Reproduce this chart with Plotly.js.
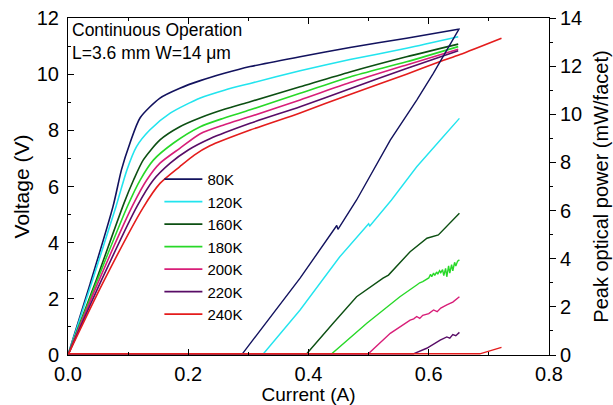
<!DOCTYPE html>
<html>
<head>
<meta charset="utf-8">
<script src="https://cdn.plot.ly/plotly-3.0.1.min.js"></script>
<style>html,body{margin:0;padding:0;background:#fff;}#chart{width:613px;height:405px;}</style>
</head>
<body>
<div id="chart"></div>
<script>
// Temperatures / legend labels
const temps = ["80K", "120K", "160K", "180K", "200K", "220K", "240K"];
const colors = ["#12125e", "#22e4ee", "#0c4f12", "#28d828", "#d81e78", "#580c66", "#e41c1c"];

// Voltage (left axis) vs current
const iV80  = [0, 0.037, 0.075, 0.089, 0.103, 0.12, 0.153, 0.186, 0.22, 0.26, 0.303, 0.386, 0.469, 0.563, 0.649];
const v80   = [0, 2.55, 5.3, 6.6, 7.54, 8.45, 9.15, 9.5, 9.77, 10.03, 10.27, 10.62, 10.95, 11.28, 11.6];
const iV120 = [0, 0.039, 0.08, 0.098, 0.114, 0.136, 0.17, 0.22, 0.26, 0.303, 0.386, 0.469, 0.563, 0.649];
const v120  = [0, 2.55, 5.3, 6.59, 7.42, 8.01, 8.61, 9.15, 9.43, 9.67, 10.12, 10.52, 10.92, 11.33];
const iV160 = [0, 0.045, 0.093, 0.109, 0.125, 0.153, 0.186, 0.22, 0.26, 0.303, 0.386, 0.469, 0.563, 0.649];
const v160  = [0, 2.55, 5.4, 6.23, 6.94, 7.66, 8.13, 8.45, 8.75, 9.02, 9.55, 10.08, 10.62, 11.07];
const iV180 = [0, 0.0466, 0.1, 0.12, 0.142, 0.175, 0.22, 0.26, 0.303, 0.386, 0.469, 0.563, 0.649];
const v180  = [0, 2.55, 5.35, 6.23, 6.94, 7.54, 8.13, 8.44, 8.73, 9.32, 9.9, 10.44, 10.98];
const iV200 = [0, 0.0494, 0.107, 0.131, 0.153, 0.186, 0.22, 0.26, 0.303, 0.386, 0.469, 0.563, 0.649];
const v200  = [0, 2.55, 5.3, 6.23, 6.83, 7.36, 7.88, 8.2, 8.49, 9.08, 9.7, 10.33, 10.89];
const iV220 = [0, 0.0532, 0.115, 0.142, 0.17, 0.2, 0.236, 0.303, 0.386, 0.469, 0.563, 0.649];
const v220  = [0, 2.55, 5.3, 6.23, 6.83, 7.3, 7.7, 8.25, 8.84, 9.48, 10.2, 10.83];
const iV240 = [0, 0.0576, 0.125, 0.153, 0.186, 0.21, 0.236, 0.303, 0.386, 0.469, 0.563, 0.619, 0.652, 0.721];
const v240  = [0, 2.55, 5.25, 6.11, 6.71, 7.12, 7.45, 8.01, 8.62, 9.28, 10.0, 10.45, 10.7, 11.28];

// Peak optical power (right axis) vs current
const iP80  = [0, 0.1, 0.2, 0.29, 0.386, 0.447, 0.449, 0.48, 0.536, 0.58, 0.6076, 0.63, 0.651];
const p80   = [0.05, 0.05, 0.05, 0.05, 3.19, 5.38, 5.22, 6.44, 8.93, 10.59, 11.7, 12.67, 13.57];
const iP120 = [0, 0.1, 0.2, 0.325, 0.386, 0.452, 0.5, 0.502, 0.538, 0.58, 0.624, 0.651];
const p120  = [0.05, 0.05, 0.05, 0.05, 1.87, 4.08, 5.45, 5.36, 6.44, 7.82, 9.07, 9.83];
const iP160 = [0, 0.1, 0.2, 0.3, 0.397, 0.441, 0.48, 0.524, 0.533, 0.569, 0.597, 0.616, 0.621, 0.635, 0.651];
const p160  = [0.05, 0.05, 0.05, 0.05, 0.05, 1.32, 2.42, 3.19, 3.32, 4.29, 4.85, 4.99, 5.12, 5.47, 5.89];
const iP180 = [0, 0.1, 0.2, 0.3, 0.4386, 0.497, 0.552, 0.58, 0.585, 0.59, 0.595, 0.6, 0.603, 0.605, 0.608, 0.61, 0.613, 0.615, 0.618, 0.62, 0.623, 0.625, 0.628, 0.63, 0.633, 0.635, 0.638, 0.64, 0.643, 0.645, 0.648, 0.651];
const p180  = [0.05, 0.05, 0.05, 0.05, 0.05, 1.32, 2.42, 2.91, 3.0, 3.05, 3.12, 3.2, 3.35, 3.25, 3.4, 3.3, 3.45, 3.36, 3.5, 3.42, 3.55, 3.3, 3.6, 3.25, 3.7, 3.4, 3.75, 3.5, 3.85, 3.7, 3.9, 3.95];
const iP200 = [0, 0.1, 0.2, 0.3, 0.4, 0.4995, 0.536, 0.569, 0.575, 0.58, 0.585, 0.59, 0.6, 0.608, 0.614, 0.62, 0.63, 0.64, 0.651];
const p200  = [0.05, 0.05, 0.05, 0.05, 0.05, 0.05, 0.9, 1.45, 1.5, 1.6, 1.52, 1.65, 1.72, 1.87, 1.8, 1.95, 2.08, 2.2, 2.42];
const iP220 = [0, 0.1, 0.2, 0.3, 0.4, 0.5, 0.5744, 0.5966, 0.619, 0.63, 0.635, 0.64, 0.645, 0.651];
const p220  = [0.05, 0.05, 0.05, 0.05, 0.05, 0.05, 0.05, 0.28, 0.62, 0.75, 0.7, 0.85, 0.8, 0.94];
const iP240 = [0, 0.1, 0.2, 0.3, 0.4, 0.5, 0.6, 0.685, 0.721];
const p240  = [0.05, 0.05, 0.05, 0.05, 0.05, 0.05, 0.05, 0.05, 0.32];

const vI = [iV80, iV120, iV160, iV180, iV200, iV220, iV240];
const vV = [v80, v120, v160, v180, v200, v220, v240];
const pI = [iP80, iP120, iP160, iP180, iP200, iP220, iP240];
const pP = [p80, p120, p160, p180, p200, p220, p240];

const FONT = "Liberation Sans, Arial, sans-serif";
const traces = [];
temps.forEach((t, k) => {
  traces.push({
    x: vI[k], y: vV[k], type: "scatter", mode: "lines", name: t,
    legendgroup: t, line: {color: colors[k], width: 1.6, shape: "spline", smoothing: 0.7},
    xaxis: "x", yaxis: "y"
  });
});
temps.forEach((t, k) => {
  traces.push({
    x: pI[k], y: pP[k], type: "scatter", mode: "lines", name: t,
    legendgroup: t, showlegend: false, line: {color: colors[k], width: 1.4},
    xaxis: "x", yaxis: "y2"
  });
});

const layout = {
  width: 613, height: 405,
  margin: {l: 68, r: 64, t: 18, b: 50},
  paper_bgcolor: "#fff", plot_bgcolor: "#fff",
  font: {family: FONT, color: "#000", size: 20},
  showlegend: true,
  legend: {x: 0.19, y: 0.57, xanchor: "left", yanchor: "top", bgcolor: "rgba(0,0,0,0)",
           itemwidth: 38, font: {family: FONT, size: 15, color: "#000"}, tracegroupgap: 0},
  xaxis: {
    range: [0, 0.8], dtick: 0.2, tick0: 0, tickformat: ".1f",
    ticks: "inside", ticklen: 6, tickcolor: "#000", tickwidth: 1,
    minor: {dtick: 0.1, ticks: "inside", ticklen: 3, tickcolor: "#000"},
    showline: true, linecolor: "#000", linewidth: 1, mirror: "ticks",
    showgrid: false, zeroline: false, ticklabelstandoff: 1,
    tickfont: {family: FONT, size: 20},
    title: {text: "Current (A)", font: {family: FONT, size: 19}, standoff: 3}
  },
  yaxis: {
    range: [0, 12], dtick: 2, tick0: 0,
    ticks: "inside", ticklen: 6, tickcolor: "#000",
    minor: {dtick: 1, ticks: "inside", ticklen: 3, tickcolor: "#000"},
    showline: true, linecolor: "#000", linewidth: 1,
    showgrid: false, zeroline: false, ticklabelstandoff: 4,
    tickfont: {family: FONT, size: 20},
    title: {text: "Voltage (V)", font: {family: FONT, size: 21}, standoff: 1}
  },
  yaxis2: {
    overlaying: "y", side: "right",
    range: [0, 14], dtick: 2, tick0: 0,
    ticks: "outside", ticklen: 6, tickcolor: "#000",
    minor: {dtick: 1, ticks: "outside", ticklen: 3, tickcolor: "#000"},
    showline: true, linecolor: "#000", linewidth: 1,
    showgrid: false, zeroline: false,
    tickfont: {family: FONT, size: 20},
    title: {text: "Peak optical power (mW/facet)", font: {family: FONT, size: 20}, standoff: 12}
  },
  annotations: [{
    xref: "paper", yref: "paper", x: 0.004, y: 1.0, xanchor: "left", yanchor: "top",
    align: "left", showarrow: false,
    text: "Continuous Operation<br>L=3.6 mm W=14 μm",
    font: {family: FONT, size: 17.5, color: "#000"}
  }]
};

Plotly.newPlot("chart", traces, layout, {displayModeBar: false, staticPlot: true});
</script>
</body>
</html>
